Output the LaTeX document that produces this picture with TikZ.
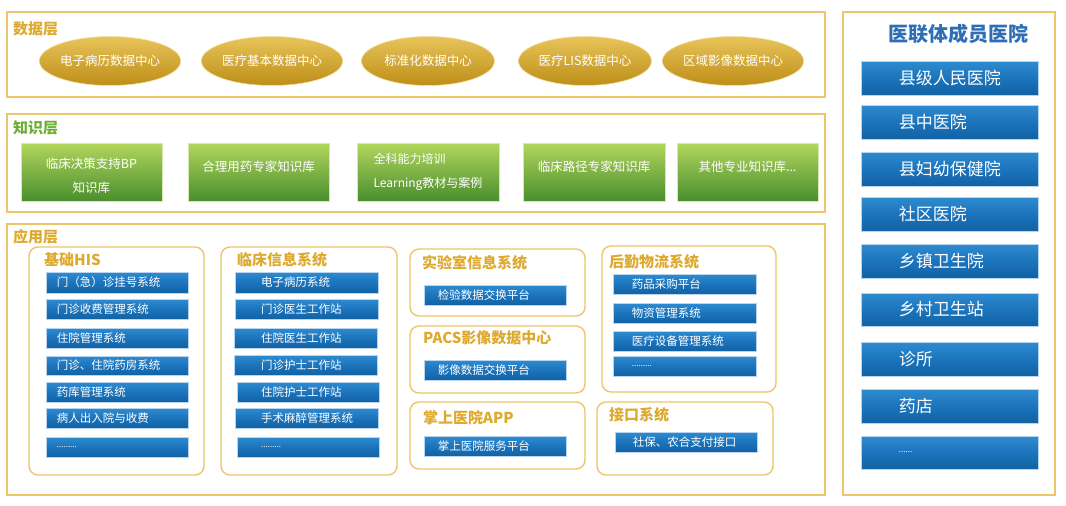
\documentclass[tikz,border=0pt]{standalone}
\usepackage{fontspec}
\setmainfont{Noto Sans CJK SC}
\usetikzlibrary{shapes.geometric,fit}
\definecolor{goldline}{HTML}{EBC66B}
\definecolor{goldtitle}{HTML}{DDA92E}
\definecolor{greentitle}{HTML}{6FAE35}
\definecolor{bluetitle}{HTML}{2F6EB5}
\definecolor{ellTop}{HTML}{E8C45A}
\definecolor{ellBot}{HTML}{BE8E18}
\definecolor{ellEdge}{HTML}{F3DFA0}
\definecolor{grnTop}{HTML}{B2D65C}
\definecolor{grnBot}{HTML}{4A8E2E}
\definecolor{grnEdge}{HTML}{D6E8B4}
\definecolor{bluTop}{HTML}{2E8BD0}
\definecolor{bluMid}{HTML}{1C74BC}
\definecolor{bluBot}{HTML}{1262A4}
\definecolor{bluEdge}{HTML}{B8D4EE}
\newcommand{\dotsfill}{{\fontsize{8}{9}\selectfont .........}}
\begin{document}
\begin{tikzpicture}[x=1pt,y=-1pt,
  layer/.style={draw=goldline, line width=1.5pt, inner sep=0pt},
  grp/.style={draw=goldline, line width=1.4pt, rounded corners=9pt, inner sep=0pt},
  ttl/.style={font=\fontsize{15}{17}\selectfont\bfseries, text=goldtitle, inner sep=0pt, anchor=west},
  ell/.style={ellipse, minimum width=133pt, minimum height=49pt, inner sep=0pt,
    top color=ellTop, bottom color=ellBot, draw=ellEdge, line width=0.6pt,
    text=white, font=\fontsize{12.5}{14}\selectfont},
  gbox/.style={inner sep=0pt, top color=grnTop, bottom color=grnBot, draw=grnEdge,
    line width=0.6pt, text=white, align=center, font=\fontsize{12.5}{24}\selectfont},
  gtxt/.style={text=white, inner sep=0pt, font=\fontsize{12.5}{24}\selectfont},
  bar/.style={inner sep=0pt, draw=bluEdge, line width=0.6pt, top color=bluTop,
    bottom color=bluBot, middle color=bluMid},
  bartxt/.style={text=white, font=\fontsize{11.5}{13}\selectfont, inner sep=0pt, anchor=west},
  bigtxt/.style={text=white, font=\fontsize{17}{19}\selectfont, inner sep=0pt, anchor=west}
]
\useasboundingbox (0,0) rectangle (1066,506);

% ---------- data layer
\node[layer, fit={(7,12) (825,97)}] (dl) {};
\node[ttl] (dlt) at (13,29) {数据层};
\node[ell] (e1) at (110,61) {电子病历数据中心};
\node[ell] (e2) at (272,61) {医疗基本数据中心};
\node[ell] (e3) at (428,61) {标准化数据中心};
\node[ell] (e4) at (585,61) {医疗LIS数据中心};
\node[ell] (e5) at (733,61) {区域影像数据中心};

% ---------- knowledge layer
\node[layer, fit={(7,114) (825,212)}] (kl) {};
\node[ttl, text=greentitle] (klt) at (13,128) {知识层};
\node[gbox, fit={(21,143) (162,201)}] (k1) {};
\node[gtxt, align=center] (k1t) at ([yshift=-4pt]k1.center) {临床决策支持BP\\知识库};
\node[gbox, fit={(188,143) (329,201)}] (k2) {合理用药专家知识库};
\node[gbox, fit={(357,143) (499,201)}] (k3) {};
\node[gtxt, align=left, font=\fontsize{12}{24}\selectfont] (k3t) at (k3.center) {全科能力培训\\Learning教材与案例};
\node[gbox, fit={(523,143) (665,201)}] (k4) {临床路径专家知识库};
\node[gbox, fit={(677,143) (818,201)}] (k5) {其他专业知识库...};

% ---------- application layer
\node[layer, fit={(7,224) (825,495)}] (al) {};
\node[ttl] (alt) at (13,237) {应用层};

% basic HIS
\node[grp, fit={(29,247) (204,475)}] (g1) {};
\node[ttl] (g1t) at (44,260) {基础HIS};
\foreach \i/\ya/\yb/\t in {1/272/293/门（急）诊挂号系统, 2/299/319/门诊收费管理系统,
  3/328/348/住院管理系统, 4/356/375/门诊、住院药房系统, 5/382/402/药库管理系统,
  6/408/428/病人出入院与收费, 7/437/457/\dotsfill}{
  \node[bar, fit={(46,\ya) (188,\yb)}] (h\i) {};
  \node[bartxt] (h\i-t) at ([xshift=11pt]h\i.west) {\t};
}

% clinical
\node[grp, fit={(221,247) (397,475)}] (g2) {};
\node[ttl] (g2t) at (237,260) {临床信息系统};
\foreach \i/\xa/\xb/\ya/\yb/\t in {1/235/378/272/293/电子病历系统, 2/235/378/299/319/门诊医生工作站,
  3/234/377/328/348/住院医生工作站, 4/234/377/355/375/门诊护士工作站, 5/237/379/382/402/住院护士工作站,
  6/235/378/408/428/手术麻醉管理系统, 7/237/379/437/457/\dotsfill}{
  \node[bar, fit={(\xa,\ya) (\xb,\yb)}] (c\i) {};
  \node[bartxt] (c\i-t) at (261,{(\ya+\yb)/2}) {\t};
}

% lab
\node[grp, fit={(410,249) (585,316)}] (g3) {};
\node[ttl] (g3t) at (422,263) {实验室信息系统};
\node[bar, fit={(424,285) (566,305)}] (l1) {};
\node[bartxt] (l1-t) at ([xshift=14pt]l1.west) {检验数据交换平台};

% PACS
\node[grp, fit={(410,326) (585,393)}] (g4) {};
\node[ttl] (g4t) at (423,338) {PACS影像数据中心};
\node[bar, fit={(424,360) (566,380)}] (p1) {};
\node[bartxt] (p1-t) at ([xshift=14pt]p1.west) {影像数据交换平台};

% APP
\node[grp, fit={(410,402) (585,469)}] (g5) {};
\node[ttl] (g5t) at (423,418) {掌上医院APP};
\node[bar, fit={(424,436) (566,456)}] (a1) {};
\node[bartxt] (a1-t) at ([xshift=14pt]a1.west) {掌上医院服务平台};

% logistics
\node[grp, fit={(602,246) (776,392)}] (g6) {};
\node[ttl] (g6t) at (609,262) {后勤物流系统};
\foreach \i/\ya/\yb/\t in {1/274/294/药品采购平台, 2/303/323/物资管理系统,
  3/331/351/医疗设备管理系统, 4/356/376/\dotsfill}{
  \node[bar, fit={(613,\ya) (756,\yb)}] (w\i) {};
  \node[bartxt] (w\i-t) at ([xshift=19pt]w\i.west) {\t};
}

% interface
\node[grp, fit={(597,402) (773,475)}] (g7) {};
\node[ttl] (g7t) at (609,415) {接口系统};
\node[bar, fit={(615,432) (757,452)}] (i1) {};
\node[bartxt] (i1-t) at ([xshift=18pt]i1.west) {社保、农合支付接口};

% ---------- right panel
\node[layer, fit={(843,12) (1055,495)}] (rp) {};
\node[font=\fontsize{20}{22}\selectfont\bfseries, text=bluetitle, inner sep=0pt] (rpt) at (958,34) {医联体成员医院};
\foreach \i/\ya/\yb/\t in {1/61/95/县级人民医院, 2/105/139/县中医院, 3/152/186/县妇幼保健院,
  4/197/231/社区医院, 5/244/278/乡镇卫生院, 6/293/326/乡村卫生站, 7/342/376/诊所,
  8/389/423/药店, 9/436/469/{\fontsize{8}{9}\selectfont ......}}{
  \node[bar, fit={(861,\ya) (1038,\yb)}] (m\i) {};
  \node[bigtxt] (m\i-t) at ([xshift=38pt]m\i.west) {\t};
}
\end{tikzpicture}
\end{document}
